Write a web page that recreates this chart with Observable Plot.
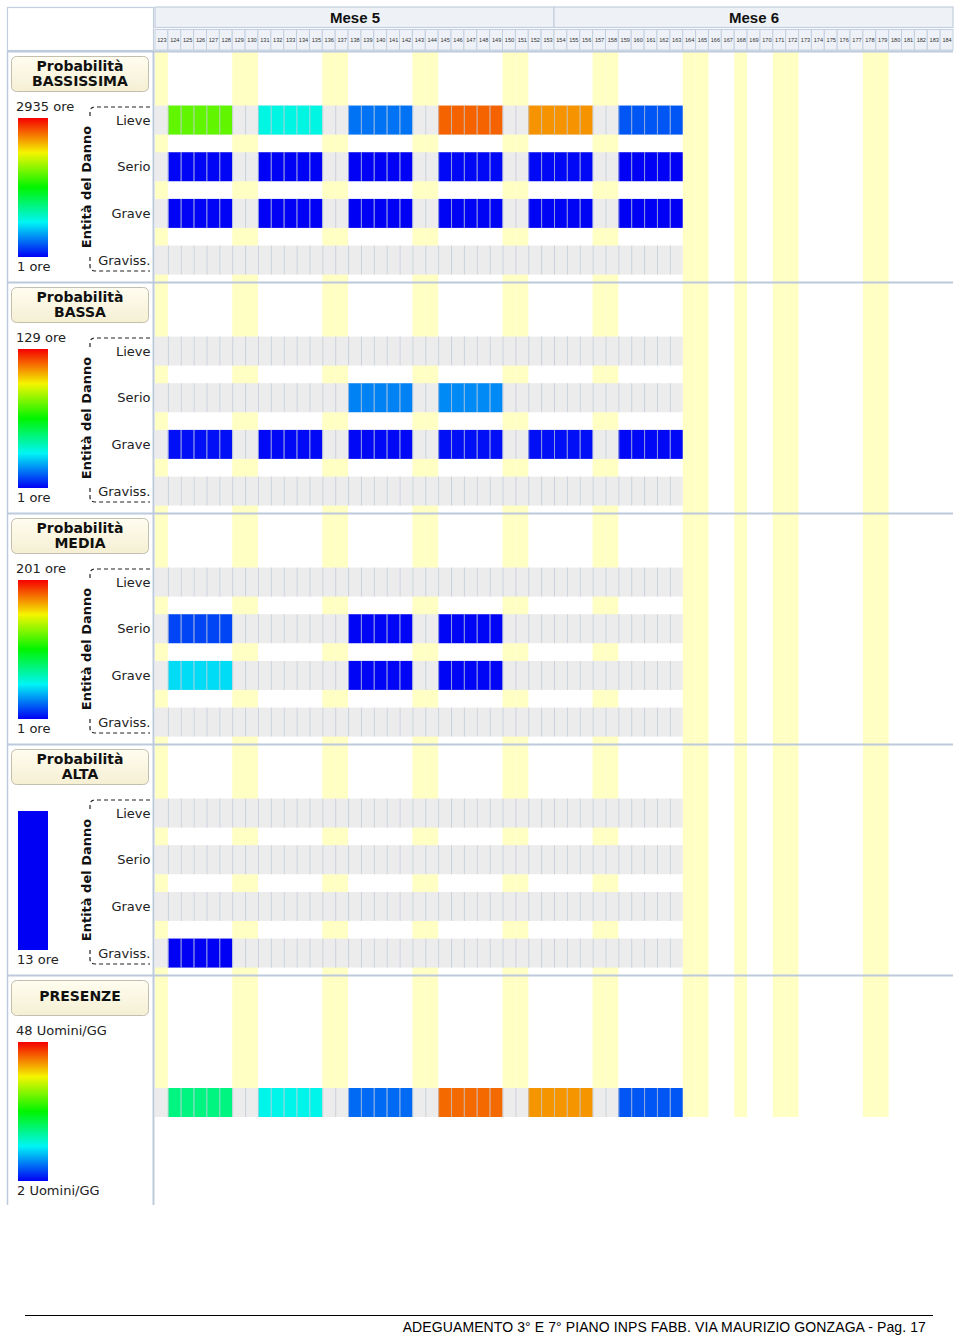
<!DOCTYPE html>
<html>
<head>
<meta charset="utf-8">
<script src="https://cdn.jsdelivr.net/npm/d3@7"></script>
<script src="https://cdn.jsdelivr.net/npm/@observablehq/plot@0.6"></script>
<style>
  body { margin: 0; background: #fff; }
  #page { position: relative; width: 960px; height: 1339px; overflow: hidden; font-family: "DejaVu Sans", sans-serif; }
  #chart svg { display: block; }
  #footer-line { position: absolute; left: 25px; top: 1315px; width: 908px; height: 0; border-top: 1.4px solid #000; }
  #footer-text { position: absolute; right: 34px; top: 1319px; font-family: "Liberation Sans", Arial, sans-serif; font-size: 14px; letter-spacing: 0.1px; color: #000; white-space: nowrap; }
</style>
</head>
<body>
<div id="page">
  <div id="chart"></div>
  <div id="footer-line"></div>
  <div id="footer-text">ADEGUAMENTO 3° E 7° PIANO INPS FABB. VIA MAURIZIO GONZAGA - Pag. 17</div>
</div>
<script>
// ---------------- DATA ----------------
const firstDay = 123;
const lastDay = 184;
const monthLabels = ["Mese 5", "Mese 6"];
const monthStart = [123, 154];
const monthEnd = [153, 184];
const holidays = [123, 129, 130, 136, 137, 143, 144, 150, 151, 157, 158, 164, 165, 168, 171, 172, 178, 179];
const scheduleEnd = 163; // last day of the work schedule rows
const weeks = [
  [124, 125, 126, 127, 128],
  [131, 132, 133, 134, 135],
  [138, 139, 140, 141, 142],
  [145, 146, 147, 148, 149],
  [152, 153, 154, 155, 156],
  [159, 160, 161, 162, 163]
];
const severities = ["Lieve", "Serio", "Grave", "Graviss."];
const probLabels = ["BASSISSIMA", "BASSA", "MEDIA", "ALTA"];
const probMin = [1, 1, 1, 13];
const probMax = [2935, 129, 201, 13];
const unitOre = "ore";
// hours per week block, rows = severities
const bassissima = [
  [1760, 790, 345, 2640, 2495, 255],
  [18, 8, 3, 26, 25, 3],
  [9, 4, 2, 13, 12, 2],
  [null, null, null, null, null, null]
];
const bassa = [
  [null, null, null, null, null, null],
  [null, null, 18, 19, null, null],
  [3, 2, 2, 3, 3, 2],
  [null, null, null, null, null, null]
];
const media = [
  [null, null, null, null, null, null],
  [15, null, 2, 2, null, null],
  [46, null, 2, 2, null, null],
  [null, null, null, null, null, null]
];
const alta = [
  [null, null, null, null, null, null],
  [null, null, null, null, null, null],
  [null, null, null, null, null, null],
  [13, null, null, null, null, null]
];
const presenzeTitle = "PRESENZE";
const presenzeUnit = "Uomini/GG";
const presenzeMin = 2;
const presenzeMax = 48;
const presenze = [19, 14, 7, 43, 41, 6];

// ---------------- HELPERS ----------------
const rainbow = t => d3.hsl(240 * (1 - t), 1, 0.48).formatHex();
const FONT = "DejaVu Sans, sans-serif";
const LINE = "#bccadb";
const chart = document.getElementById("chart");

const xScale = {domain: [firstDay, lastDay + 1], axis: null};
const baseStyle = {fontFamily: FONT, fontSize: "13px", color: "#222", background: "none", overflow: "visible"};

function colorFn(opts) {
  let sc = null;
  try { sc = Plot.scale({color: opts}); } catch (e) { sc = null; }
  if (sc && typeof sc.apply === "function") return v => sc.apply(v);
  const lo = opts.domain[0], hi = opts.domain[1];
  return v => rainbow((v - lo) / (hi - lo));
}

function decoratePanel(svg, idx, h, title1, title2, min, max, unit, colorOpts, showBracket) {
  const g = svg.append("g").attr("font-family", FONT).attr("text-anchor", "start");
  const defs = svg.append("defs");
  const cg = defs.append("linearGradient").attr("id", "cream" + idx).attr("x1", 0).attr("y1", 0).attr("x2", 0).attr("y2", 1);
  cg.append("stop").attr("offset", "0%").attr("stop-color", "#fffdf0");
  cg.append("stop").attr("offset", "100%").attr("stop-color", "#f5efd3");
  // borders
  g.append("line").attr("x1", 7).attr("x2", 953).attr("y1", 0.5).attr("y2", 0.5).attr("stroke", LINE).attr("stroke-width", 2);
  g.append("line").attr("x1", 7.5).attr("x2", 7.5).attr("y1", 0).attr("y2", h).attr("stroke", LINE).attr("stroke-width", 1.5);
  g.append("line").attr("x1", 153.5).attr("x2", 153.5).attr("y1", 0).attr("y2", h).attr("stroke", LINE).attr("stroke-width", 2);
  // title box
  g.append("rect").attr("x", 11.5).attr("y", 5.5).attr("width", 137).attr("height", 35).attr("rx", 5)
    .attr("fill", `url(#cream${idx})`).attr("stroke", "#c3bfae");
  const title = (y, t) => g.append("text").attr("x", 80).attr("y", y).attr("text-anchor", "middle").attr("dominant-baseline", "middle")
    .attr("font-weight", "bold").attr("font-size", 14).attr("fill", "#111").text(t);
  if (title2) { title(16, title1); title(31, title2); } else { title(22, title1); }
  // color legend bar
  const f = colorFn(colorOpts);
  let barFill;
  if (max > min) {
    const lg = defs.append("linearGradient").attr("id", "leg" + idx).attr("x1", 0).attr("y1", 1).attr("x2", 0).attr("y2", 0);
    d3.range(0, 21).forEach(i => {
      const t = i / 20;
      lg.append("stop").attr("offset", (t * 100) + "%").attr("stop-color", f(min + t * (max - min)));
    });
    barFill = `url(#leg${idx})`;
    g.append("text").attr("x", 16).attr("y", 56).attr("text-anchor", "start").attr("dominant-baseline", "middle")
      .attr("font-size", 13).attr("fill", "#222").text(`${max} ${unit}`);
  } else {
    barFill = f(min);
  }
  g.append("rect").attr("x", 18).attr("y", 67).attr("width", 30).attr("height", 139).attr("fill", barFill);
  g.append("text").attr("x", 17).attr("y", 216).attr("text-anchor", "start").attr("dominant-baseline", "middle")
    .attr("font-size", 13).attr("fill", "#222").text(`${min} ${unit}`);
  if (showBracket) {
    g.append("text").attr("transform", "translate(87,136) rotate(-90)").attr("text-anchor", "middle").attr("dominant-baseline", "middle")
      .attr("font-weight", "bold").attr("font-size", 13).attr("fill", "#111").text("Entità del Danno");
    const dash = p => g.append("path").attr("d", p).attr("fill", "none").attr("stroke", "#222").attr("stroke-width", 1.2).attr("stroke-dasharray", "4,3");
    dash("M150,56 H95 Q90,56 90,61 V67");
    dash("M90,206 V215 Q90,220 95,220 H150");
  }
}

// ---------------- HEADER ----------------
const months = monthLabels.map((label, i) => ({label, start: monthStart[i], end: monthEnd[i]}));
const allDays = d3.range(firstDay, lastDay + 1);
const header = Plot.plot({
  width: 960, height: 51,
  marginLeft: 155, marginRight: 7, marginTop: 7, marginBottom: 1,
  x: xScale,
  y: {domain: ["mese", "giorno"], paddingInner: 0.09, paddingOuter: 0, round: false, axis: null},
  style: baseStyle,
  marks: [
    Plot.barX(months, {x1: "start", x2: d => d.end + 1, y: () => "mese", fill: "#eef1f6", stroke: "#c3cfde", strokeWidth: 1.2}),
    Plot.text(months, {x: d => (d.start + d.end + 1) / 2, y: () => "mese", text: "label", fontWeight: "bold", fontSize: 15, fontFamily: "Liberation Sans, Arial, sans-serif", fill: "#111"}),
    Plot.barX(allDays, {x1: d => d, x2: d => d + 1, y: () => "giorno", fill: "#eef2f8", stroke: "#c3cfde", strokeWidth: 1}),
    Plot.text(allDays, {x: d => d + 0.5, y: () => "giorno", text: d => String(d), fontSize: 5.6, fontFamily: "Liberation Sans, Arial, sans-serif", fill: "#333"})
  ]
});
d3.select(header).append("rect").attr("x", 7.5).attr("y", 7.5).attr("width", 146).attr("height", 43)
  .attr("fill", "#fff").attr("stroke", "#c3cfde").attr("stroke-width", 1.2);
chart.appendChild(header);

// ---------------- PROBABILITY SECTIONS ----------------
const sectionValues = [bassissima, bassa, media, alta];
sectionValues.forEach((values, s) => {
  const min = probMin[s], max = probMax[s];
  const cells = [];
  severities.forEach((sev, r) => weeks.forEach((days, w) => {
    const v = values[r][w];
    if (v != null) days.forEach(day => cells.push({sev, day, value: v}));
  }));
  const bg = [];
  const seps = [];
  severities.forEach(sev => {
    d3.range(firstDay, scheduleEnd + 1).forEach(day => bg.push({sev, day}));
    d3.range(firstDay + 1, scheduleEnd + 1).forEach(day => seps.push({sev, day}));
  });
  const colorOpts = {type: "linear", domain: [min, max > min ? max : min + 1], interpolate: rainbow};
  const plot = Plot.plot({
    width: 960, height: 231,
    marginLeft: 155, marginRight: 7, marginTop: 0, marginBottom: 0,
    x: xScale,
    y: {domain: severities, paddingInner: 0.379, paddingOuter: 0.6645, align: 0.88, round: false,
        axis: "left", tickSize: 0, tickPadding: 5, label: null},
    color: colorOpts,
    style: baseStyle,
    marks: [
      Plot.barX(holidays, {x1: d => d, x2: d => d + 1, fill: "#ffffc4"}),
      Plot.barX(bg, {x1: "day", x2: d => d.day + 1, y: "sev", fill: "#ececec"}),
      Plot.barX(cells, {x1: "day", x2: d => d.day + 1, y: "sev", fill: "value"}),
      Plot.tickX(seps, {x: "day", y: "sev", stroke: "#bfc8d8", strokeOpacity: 0.75, strokeWidth: 1})
    ]
  });
  decoratePanel(d3.select(plot), s, 231, "Probabilità", probLabels[s], min, max, unitOre, colorOpts, true);
  chart.appendChild(plot);
});

// ---------------- PRESENZE ----------------
{
  const cells = [];
  weeks.forEach((days, w) => {
    const v = presenze[w];
    if (v != null) days.forEach(day => cells.push({row: presenzeTitle, day, value: v}));
  });
  const bg = d3.range(firstDay, scheduleEnd + 1).map(day => ({row: presenzeTitle, day}));
  const seps = d3.range(firstDay + 1, scheduleEnd + 1).map(day => ({row: presenzeTitle, day}));
  const colorOpts = {type: "linear", domain: [presenzeMin, presenzeMax], interpolate: rainbow};
  const plot = Plot.plot({
    width: 960, height: 230,
    marginLeft: 155, marginRight: 7, marginTop: 0, marginBottom: 88,
    x: xScale,
    y: {domain: [presenzeTitle], paddingInner: 0, paddingOuter: 1.948, align: 1, round: false, axis: null},
    color: colorOpts,
    style: baseStyle,
    marks: [
      Plot.barX(holidays, {x1: d => d, x2: d => d + 1, fill: "#ffffc4"}),
      Plot.barX(bg, {x1: "day", x2: d => d.day + 1, y: "row", fill: "#ececec"}),
      Plot.barX(cells, {x1: "day", x2: d => d.day + 1, y: "row", fill: "value"}),
      Plot.tickX(seps, {x: "day", y: "row", stroke: "#bfc8d8", strokeOpacity: 0.75, strokeWidth: 1})
    ]
  });
  decoratePanel(d3.select(plot), 9, 230, presenzeTitle, null, presenzeMin, presenzeMax, presenzeUnit, colorOpts, false);
  chart.appendChild(plot);
}
</script>
</body>
</html>
